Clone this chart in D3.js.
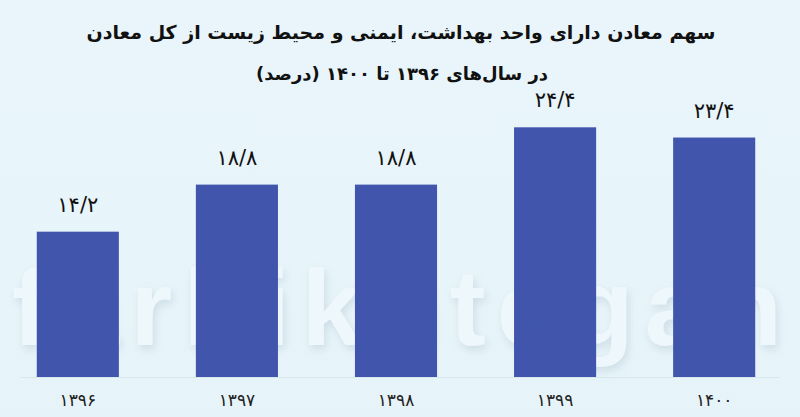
<!DOCTYPE html>
<html><head><meta charset="utf-8">
<script src="https://cdn.jsdelivr.net/npm/d3@7"></script>
<style>
html,body{margin:0;padding:0;background:#e8f4fa;}
svg{display:block;}
</style></head>
<body>
<svg id="c" width="800" height="417"></svg>
<script>
const categories = ["۱۳۹۶","۱۳۹۷","۱۳۹۸","۱۳۹۹","۱۴۰۰"];
const values = [14.2, 18.8, 18.8, 24.4, 23.4];
const valueLabels = ["۱۴/۲","۱۸/۸","۱۸/۸","۲۴/۴","۲۳/۴"];
const titleLine1 = "سهم معادن دارای واحد بهداشت، ایمنی و محیط زیست از کل معادن";
const titleLine2 = "در سال‌های ۱۳۹۶ تا ۱۴۰۰ (درصد)";

const svg = d3.select("#c");
const W = 800, H = 417;
const defs = svg.append("defs");
const g0 = defs.append("linearGradient").attr("id","bg").attr("x1",0).attr("y1",0).attr("x2",0).attr("y2",1);
g0.append("stop").attr("offset","0%").attr("stop-color","#e9f5fb");
g0.append("stop").attr("offset","100%").attr("stop-color","#e6f4f9");
svg.append("rect").attr("width",W).attr("height",H).attr("fill","url(#bg)");

const f = defs.append("filter").attr("id","sh").attr("x","-10%").attr("y","-10%").attr("width","130%").attr("height","130%");
f.append("feDropShadow").attr("dx",2).attr("dy",4).attr("stdDeviation",4).attr("flood-color","#9fb3c0").attr("flood-opacity",0.35);

// watermark
svg.append("text").attr("x",12).attr("y",345)
  .attr("font-family","Liberation Sans").attr("font-weight","bold").attr("font-size",108)
  .attr("fill","#eef8fc").attr("filter","url(#sh)").attr("textLength",770).attr("lengthAdjust","spacing")
  .text("farhikhtegan");

const x = d3.scaleBand().domain(categories).range([-3, 795]).paddingInner(0.484).paddingOuter(0.25);
const y = d3.scaleLinear().domain([0, 24.4]).range([377, 127.3]);

// baseline
svg.append("line").attr("x1",20).attr("x2",780).attr("y1",y(0)+0.5).attr("y2",y(0)+0.5)
  .attr("stroke","#d8e6ee").attr("stroke-width",1);

svg.selectAll("rect.bar").data(values).join("rect").attr("class","bar")
  .attr("x",(d,i)=>x(categories[i])).attr("width",x.bandwidth())
  .attr("y",d=>y(d)).attr("height",d=>y(0)-y(d))
  .attr("fill","#3b4fa9").attr("fill-opacity",0.97);

svg.selectAll("text.val").data(values).join("text").attr("class","val")
  .attr("x",(d,i)=>x(categories[i])+x.bandwidth()/2).attr("y",d=>y(d)-20)
  .attr("text-anchor","middle").attr("font-family","DejaVu Sans").attr("font-size",21)
  .attr("fill","#111").text((d,i)=>valueLabels[i]);

const xAxis = d3.axisBottom(x).tickSize(0).tickPadding(0);
const ax = svg.append("g").attr("transform",`translate(0,${y(0)})`).call(xAxis);
ax.select(".domain").remove();
ax.selectAll("text").attr("y",29).attr("dy","0").attr("font-family","DejaVu Sans").attr("font-size",17).attr("fill","#222");

svg.append("text").attr("x",401).attr("y",39).attr("text-anchor","middle")
  .attr("font-family","DejaVu Sans").attr("font-weight","bold").attr("font-size",19).attr("fill","#111")
  .text(titleLine1);
svg.append("text").attr("x",402).attr("y",80).attr("text-anchor","middle")
  .attr("font-family","DejaVu Sans").attr("font-weight","bold").attr("font-size",18).attr("fill","#111")
  .text(titleLine2);
</script>
</body></html>
